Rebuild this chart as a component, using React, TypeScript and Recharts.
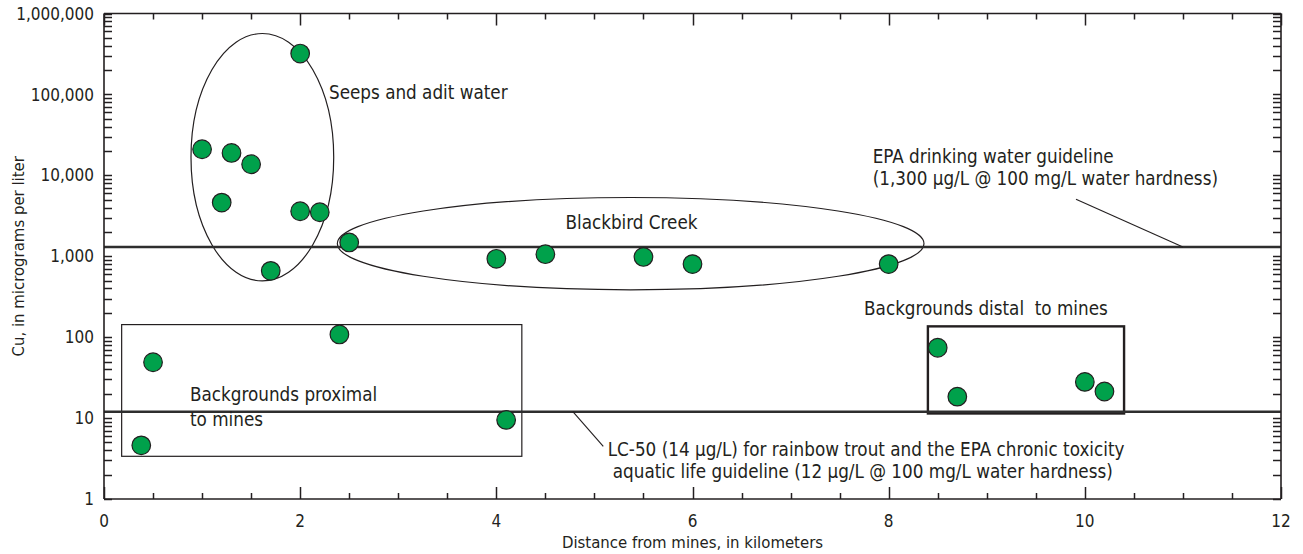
import React from 'react';
import {
  ScatterChart,
  Scatter,
  XAxis,
  YAxis,
  ReferenceLine,
  ReferenceArea,
  ReferenceDot,
  Label,
} from 'recharts';

const INK = '#231f20';
const DOT = '#00a14b';
const FONT = "'DejaVu Sans Condensed', 'DejaVu Sans', sans-serif";

// Dissolved copper, by sample group: distance from mines (km) and Cu (µg/L)
const seepDistance = [2.0, 1.0, 1.3, 1.5, 1.2, 2.0, 2.2, 1.7];
const seepCu = [320000, 21000, 18900, 13700, 4600, 3600, 3500, 660];
const creekDistance = [2.5, 4.0, 4.5, 5.5, 6.0, 8.0];
const creekCu = [1480, 930, 1060, 980, 800, 800];
const proximalDistance = [0.5, 0.38, 2.4, 4.1];
const proximalCu = [49, 4.6, 108, 9.5];
const distalDistance = [8.5, 8.7, 10.0, 10.2];
const distalCu = [74, 18.4, 28, 21.3];

// Guideline concentrations (µg/L)
const epaDrinkingCu = 1300;
const chronicToxicityCu = 12;

// Axis ticks
const xLabelTicks = [0, 2, 4, 6, 8, 10, 12];
const xTicks = [0, 0.5, 1, 1.5, 2, 2.5, 3, 3.5, 4, 4.5, 5, 5.5, 6, 6.5, 7, 7.5, 8, 8.5, 9, 9.5, 10, 10.5, 11, 11.5, 12];
const yDecades = [1, 10, 100, 1000, 10000, 100000, 1000000];
const yMultipliers = [1, 2, 3, 4, 5, 6, 7, 8, 9];
const yTicks = [
  ...yDecades.slice(0, -1).flatMap((d) => yMultipliers.map((m) => m * d)),
  1000000,
];

const toPoints = (xs: number[], ys: number[]) => xs.map((x, i) => ({ x, y: ys[i] }));
const seepPoints = toPoints(seepDistance, seepCu);
const creekPoints = toPoints(creekDistance, creekCu);
const proximalPoints = toPoints(proximalDistance, proximalCu);
const distalPoints = toPoints(distalDistance, distalCu);

// Plot frame
const PLOT_TOP = 13.5;
const PLOT_HEIGHT = 485.5;

const TICK_FONT = 17;
const TITLE_FONT = 16.6;
const NOTE_FONT = 18.7;
const TICK_W = 1.5;

// Snap a 1.5px tick to the pixel grid so it stays crisp
const snap = (v: number) => Math.round(v) + 0.5;

const BottomTick = (p: any) => {
  const v = p.payload.value;
  const major = xLabelTicks.includes(v);
  const x = snap(p.x);
  return (
    <g>
      <line x1={x} x2={x} y1={p.y} y2={p.y - (major ? 12 : 6)} stroke={INK} strokeWidth={TICK_W} />
      {major && (
        <text x={p.x} y={p.y + 28} textAnchor="middle" fontFamily={FONT} fontSize={TICK_FONT} fill={INK}>
          {v}
        </text>
      )}
    </g>
  );
};

const TopTick = (p: any) => {
  const major = xLabelTicks.includes(p.payload.value);
  const x = snap(p.x);
  return <line x1={x} x2={x} y1={p.y} y2={p.y + (major ? 12 : 6)} stroke={INK} strokeWidth={TICK_W} />;
};

const LeftTick = (p: any) => {
  const v = p.payload.value;
  const decade = yDecades.includes(v);
  const y = snap(p.y);
  return (
    <g>
      <line x1={p.x} x2={p.x + 8} y1={y} y2={y} stroke={INK} strokeWidth={TICK_W} />
      {decade && (
        <text x={p.x - 10} y={p.y} dy="0.36em" textAnchor="end" fontFamily={FONT} fontSize={TICK_FONT} fill={INK}>
          {v.toLocaleString('en-US')}
        </text>
      )}
    </g>
  );
};

const RightTick = (p: any) => {
  const y = snap(p.y);
  return <line x1={p.x} x2={p.x - 8} y1={y} y2={y} stroke={INK} strokeWidth={TICK_W} />;
};

const Dot = (p: any) => (
  <circle cx={p.cx} cy={p.cy} r={9.3} fill={DOT} stroke={INK} strokeWidth={1.2} />
);

const EllipseShape = (p: any) => (
  <ellipse
    cx={p.x + p.width / 2}
    cy={p.y + p.height / 2}
    rx={Math.abs(p.width) / 2}
    ry={Math.abs(p.height) / 2}
    fill="none"
    stroke={INK}
    strokeWidth={1.2}
  />
);

const BoxShape = (width: number) => (p: any) => (
  <rect x={p.x} y={p.y} width={p.width} height={p.height} fill="none" stroke={INK} strokeWidth={width} />
);

// Multi-line text note anchored at a data point (baseline of first line)
const note = (lines: string[], anchor: 'start' | 'middle' = 'start', gap = 23, indents: number[] = []) => (p: any) => (
  <text
    x={p.cx}
    y={p.cy}
    textAnchor={anchor}
    fontFamily={FONT}
    fontSize={NOTE_FONT}
    fill={INK}
    style={{ whiteSpace: 'pre' }}
  >
    {lines.map((l, i) => (
      <tspan key={i} x={p.cx + (indents[i] || 0)} dy={i ? gap : 0}>
        {l}
      </tspan>
    ))}
  </text>
);

export default function App() {
  return (
    <div style={{ position: 'absolute', left: 0, top: 0, width: 1303, height: 554, background: '#fff' }}>
      <ScatterChart width={1303} height={554} margin={{ top: PLOT_TOP - 1, right: 21, bottom: 0, left: 0 }}>
        <XAxis
          xAxisId="x"
          dataKey="x"
          type="number"
          domain={[0, 12]}
          ticks={xTicks}
          interval={0}
          height={55}
          tickSize={0}
          tickMargin={0}
          tickLine={false}
          axisLine={{ stroke: INK, strokeWidth: 1.6 }}
          tick={BottomTick}
          allowDataOverflow
        >
          <Label
            content={(p: any) => (
              <text
                x={p.viewBox.x + p.viewBox.width / 2}
                y={p.viewBox.y + 49}
                textAnchor="middle"
                fontFamily={FONT}
                fontSize={TITLE_FONT}
                fill={INK}
              >
                Distance from mines, in kilometers
              </text>
            )}
          />
        </XAxis>
        <XAxis
          xAxisId="xt"
          orientation="top"
          dataKey="x"
          type="number"
          domain={[0, 12]}
          ticks={xTicks}
          interval={0}
          height={1}
          tickSize={0}
          tickMargin={0}
          tickLine={false}
          axisLine={{ stroke: INK, strokeWidth: 1.6 }}
          tick={TopTick}
          allowDataOverflow
        />
        <YAxis
          yAxisId="y"
          dataKey="y"
          type="number"
          scale="log"
          domain={[1, 1000000]}
          ticks={yTicks}
          interval={0}
          width={104}
          tickSize={0}
          tickMargin={0}
          tickLine={false}
          axisLine={{ stroke: INK, strokeWidth: 1.6 }}
          tick={LeftTick}
          allowDataOverflow
        >
          <Label
            content={() => {
              const cx = 18;
              const cy = PLOT_TOP + PLOT_HEIGHT / 2;
              return (
                <text
                  x={cx}
                  y={cy}
                  dy="0.36em"
                  transform={`rotate(-90, ${cx}, ${cy})`}
                  textAnchor="middle"
                  fontFamily={FONT}
                  fontSize={TITLE_FONT}
                  fill={INK}
                >
                  Cu, in micrograms per liter
                </text>
              );
            }}
          />
        </YAxis>
        <YAxis
          yAxisId="yr"
          orientation="right"
          dataKey="y"
          type="number"
          scale="log"
          domain={[1, 1000000]}
          ticks={yTicks}
          interval={0}
          width={1}
          tickSize={0}
          tickMargin={0}
          tickLine={false}
          axisLine={{ stroke: INK, strokeWidth: 1.6 }}
          tick={RightTick}
          allowDataOverflow
        />

        {/* Guidelines */}
        <ReferenceLine xAxisId="x" yAxisId="y" y={epaDrinkingCu} stroke="#2e2e2e" strokeWidth={2.6} />
        <ReferenceLine xAxisId="x" yAxisId="y" y={chronicToxicityCu} stroke="#2e2e2e" strokeWidth={2.6} />
        <ReferenceLine xAxisId="x" yAxisId="y" segment={[{ x: 9.91, y: 5070 }, { x: 11.0, y: epaDrinkingCu }]} stroke={INK} strokeWidth={1.1} />
        <ReferenceLine xAxisId="x" yAxisId="y" segment={[{ x: 4.78, y: chronicToxicityCu }, { x: 5.09, y: 4.48 }]} stroke={INK} strokeWidth={1.1} />

        {/* Group outlines */}
        <ReferenceArea xAxisId="x" yAxisId="y" x1={0.887} x2={2.342} y1={495} y2={566000} shape={EllipseShape} />
        <ReferenceArea xAxisId="x" yAxisId="y" x1={2.379} x2={8.36} y1={385} y2={5320} shape={EllipseShape} />
        <ReferenceArea xAxisId="x" yAxisId="y" x1={0.18} x2={4.26} y1={3.37} y2={143} shape={BoxShape(1.2)} />
        <ReferenceArea xAxisId="x" yAxisId="y" x1={8.4} x2={10.4} y1={11.4} y2={136} shape={BoxShape(2.4)} />

        {/* Samples */}
        <Scatter xAxisId="x" yAxisId="y" data={seepPoints} shape={Dot} isAnimationActive={false} />
        <Scatter xAxisId="x" yAxisId="y" data={creekPoints} shape={Dot} isAnimationActive={false} />
        <Scatter xAxisId="x" yAxisId="y" data={proximalPoints} shape={Dot} isAnimationActive={false} />
        <Scatter xAxisId="x" yAxisId="y" data={distalPoints} shape={Dot} isAnimationActive={false} />

        {/* Notes */}
        <ReferenceDot xAxisId="x" yAxisId="y" x={2.294} y={87800} r={0} shape={note(['Seeps and adit water'])} />
        <ReferenceDot xAxisId="x" yAxisId="y" x={5.378} y={2170} r={0} shape={note(['Blackbird Creek'], 'middle')} />
        <ReferenceDot
          xAxisId="x"
          yAxisId="y"
          x={7.837}
          y={14210}
          r={0}
          shape={note(['EPA drinking water guideline', '(1,300 µg/L @ 100 mg/L water hardness)'], 'start', 22.5)}
        />
        <ReferenceDot xAxisId="x" yAxisId="y" x={7.749} y={188} r={0} shape={note(['Backgrounds distal  to mines'])} />
        <ReferenceDot
          xAxisId="x"
          yAxisId="y"
          x={0.877}
          y={16.3}
          r={0}
          shape={note(['Backgrounds proximal', 'to mines'], 'start', 25)}
        />
        <ReferenceDot
          xAxisId="x"
          yAxisId="y"
          x={5.136}
          y={3.4}
          r={0}
          shape={note(
            ['LC-50 (14 µg/L) for rainbow trout and the EPA chronic toxicity', 'aquatic life guideline (12 µg/L @ 100 mg/L water hardness)'],
            'start',
            22.5,
            [0, 5]
          )}
        />
      </ScatterChart>
    </div>
  );
}
